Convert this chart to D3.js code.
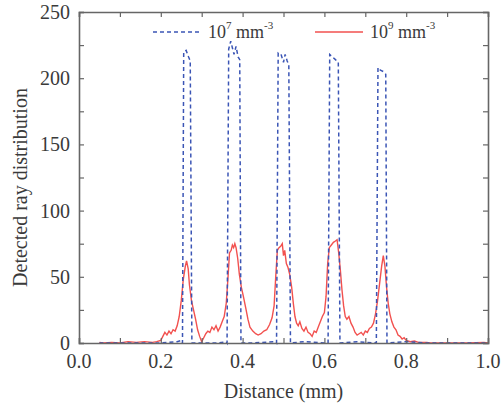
<!DOCTYPE html>
<html>
<head>
<meta charset="utf-8">
<script src="https://cdn.jsdelivr.net/npm/d3@7"></script>
<style>
  body { margin: 0; background: #fff; }
  svg text { font-family: "Liberation Serif", "Times New Roman", serif; fill: #3a3a3a; }
</style>
</head>
<body>
<svg id="chart" width="504" height="404"></svg>
<script>
const margin = { top: 12, right: 16, bottom: 61, left: 79 },
    width = 504 - margin.left - margin.right,
    height = 404 - margin.top - margin.bottom;

// 10^7 mm^-3 (blue dashed)
const blueX = [0.05, 0.20, 0.24, 0.25, 0.253, 0.256, 0.262, 0.268, 0.272, 0.276, 0.30, 0.34, 0.36, 0.362, 0.366, 0.371, 0.375, 0.379, 0.384, 0.389, 0.393, 0.396, 0.42, 0.48, 0.483, 0.487, 0.494, 0.50, 0.504, 0.509, 0.513, 0.517, 0.55, 0.60, 0.609, 0.613, 0.62, 0.627, 0.634, 0.638, 0.68, 0.727, 0.731, 0.737, 0.744, 0.75, 0.753, 0.80, 0.85, 1.0];
const blueY = [0, 0, 1, 2, 0, 220, 221, 216, 213, 0, 0, 0, 1, 0, 222, 228, 223, 218, 224, 216, 214, 0, 0, 1, 0, 219, 218, 212, 218, 213, 210, 0, 1, 0, 0, 218, 216, 214, 212, 0, 1, 0, 208, 206, 205, 203, 0, 1, 0, 0];

// 10^9 mm^-3 (red solid)
const redX = [0.05, 0.06, 0.08, 0.10, 0.12, 0.14, 0.16, 0.18, 0.19, 0.20, 0.205, 0.21, 0.215, 0.22, 0.225, 0.23, 0.235, 0.24, 0.245, 0.25, 0.255, 0.26, 0.263, 0.267, 0.27, 0.275, 0.28, 0.285, 0.29, 0.295, 0.30, 0.305, 0.31, 0.315, 0.32, 0.325, 0.33, 0.335, 0.34, 0.345, 0.35, 0.355, 0.36, 0.364, 0.368, 0.372, 0.375, 0.378, 0.381, 0.384, 0.388, 0.392, 0.397, 0.402, 0.408, 0.413, 0.418, 0.425, 0.432, 0.438, 0.445, 0.452, 0.459, 0.466, 0.472, 0.477, 0.481, 0.485, 0.489, 0.493, 0.497, 0.50, 0.503, 0.507, 0.511, 0.515, 0.52, 0.524, 0.528, 0.532, 0.536, 0.54, 0.545, 0.55, 0.555, 0.56, 0.565, 0.57, 0.575, 0.58, 0.585, 0.59, 0.595, 0.60, 0.604, 0.608, 0.612, 0.617, 0.622, 0.627, 0.631, 0.635, 0.639, 0.643, 0.647, 0.651, 0.655, 0.66, 0.665, 0.67, 0.675, 0.68, 0.685, 0.69, 0.695, 0.70, 0.705, 0.71, 0.715, 0.72, 0.725, 0.73, 0.735, 0.74, 0.744, 0.748, 0.752, 0.756, 0.76, 0.765, 0.77, 0.775, 0.78, 0.785, 0.79, 0.795, 0.80, 0.81, 0.82, 0.83, 0.85, 0.86, 0.90, 0.95, 0.99, 1.0];
const redY = [0.5, 0, 0.5, 0, 1, 0.5, 1, 0.5, 1, 2, 5, 8, 6, 9, 7, 10, 9, 13, 20, 32, 48, 58, 62, 56, 44, 32, 25, 18, 10, 5, 1, 4, 7, 9, 8, 12, 10, 13, 9, 12, 16, 20, 30, 48, 68, 70, 74, 72, 75, 72, 64, 52, 42, 35, 26, 18, 12, 9, 7, 6, 7, 9, 10, 14, 19, 28, 50, 70, 72, 73, 75, 66, 70, 60, 57, 52, 42, 30, 20, 15, 13, 16, 11, 9, 12, 8, 7, 5, 9, 8, 12, 16, 20, 23, 35, 60, 72, 74, 76, 77, 78, 68, 55, 40, 28, 20, 18, 20, 15, 12, 8, 6, 7, 8, 6, 9, 8, 11, 12, 15, 22, 32, 45, 58, 66, 58, 42, 30, 22, 16, 12, 10, 6, 5, 3, 4, 2, 1, 1.5, 0.5, 0.5, 0, 0, 0, 0.5, 0];

const xTicks = [0.0, 0.2, 0.4, 0.6, 0.8, 1.0];
const yTicks = [0, 50, 100, 150, 200, 250];

const svg = d3.select("#chart");
const g = svg.append("g").attr("transform", `translate(${margin.left},${margin.top})`);

const x = d3.scaleLinear().domain([0, 1]).range([0, width]);
const y = d3.scaleLinear().domain([0, 250]).range([height, 0]);

const line = d3.line().x(d => x(d[0])).y(d => y(d[1]));

g.append("path")
    .datum(redX.map((v, i) => [v, redY[i]]))
    .attr("fill", "none").attr("stroke", "#f2514f").attr("stroke-width", 1.4)
    .attr("d", line);

g.append("path")
    .datum(blueX.map((v, i) => [v, blueY[i]]))
    .attr("fill", "none").attr("stroke", "#3b55b5").attr("stroke-width", 1.5)
    .attr("stroke-dasharray", "4,3")
    .attr("d", line);

// axes, ticks pointing inward, mirrored on top and right
const minorX = d3.range(0, 1.001, 0.1), minorY = d3.range(0, 251, 25);
const axisColor = "#666";
g.append("g").attr("transform", `translate(0,${height})`)
    .call(d3.axisBottom(x).tickValues(minorX).tickSize(-5).tickFormat(""));
g.append("g")
    .call(d3.axisTop(x).tickValues(minorX).tickSize(-5).tickFormat(""));
g.append("g")
    .call(d3.axisLeft(y).tickValues(minorY).tickSize(-5).tickFormat(""));
g.append("g").attr("transform", `translate(${width},0)`)
    .call(d3.axisRight(y).tickValues(minorY).tickSize(-5).tickFormat(""));
g.selectAll(".domain").attr("stroke", axisColor).attr("stroke-width", 1.6);
g.selectAll(".tick line").attr("stroke", axisColor).attr("stroke-width", 1.2);

// tick labels
g.selectAll(".xlab").data(xTicks).join("text")
    .attr("x", d => x(d)).attr("y", height + 25)
    .attr("text-anchor", "middle").attr("font-size", 20)
    .text(d => d.toFixed(1));
g.selectAll(".ylab").data(yTicks).join("text")
    .attr("x", -9).attr("y", d => y(d) + 7)
    .attr("text-anchor", "end").attr("font-size", 20)
    .text(d => d);

// axis titles
g.append("text").attr("x", width / 2).attr("y", height + 55)
    .attr("text-anchor", "middle").attr("font-size", 20).text("Distance (mm)");
g.append("text").attr("transform", "rotate(-90)")
    .attr("x", -(height / 2) - 10).attr("y", -52)
    .attr("text-anchor", "middle").attr("font-size", 20).text("Detected ray distribution");

// legend
const legend = svg.append("g");
legend.append("line").attr("x1", 153).attr("x2", 202).attr("y1", 32).attr("y2", 32)
    .attr("stroke", "#3b55b5").attr("stroke-width", 1.5).attr("stroke-dasharray", "4,3");
const t1 = legend.append("text").attr("x", 208).attr("y", 38).attr("font-size", 18);
t1.append("tspan").text("10");
t1.append("tspan").attr("font-size", 11).attr("dy", -9).text("7");
t1.append("tspan").attr("dy", 9).text(" mm");
t1.append("tspan").attr("font-size", 11).attr("dy", -9).text("-3");

legend.append("line").attr("x1", 315).attr("x2", 363).attr("y1", 32).attr("y2", 32)
    .attr("stroke", "#f2514f").attr("stroke-width", 1.4);
const t2 = legend.append("text").attr("x", 370).attr("y", 38).attr("font-size", 18);
t2.append("tspan").text("10");
t2.append("tspan").attr("font-size", 11).attr("dy", -9).text("9");
t2.append("tspan").attr("dy", 9).text(" mm");
t2.append("tspan").attr("font-size", 11).attr("dy", -9).text("-3");
</script>
</body>
</html>
